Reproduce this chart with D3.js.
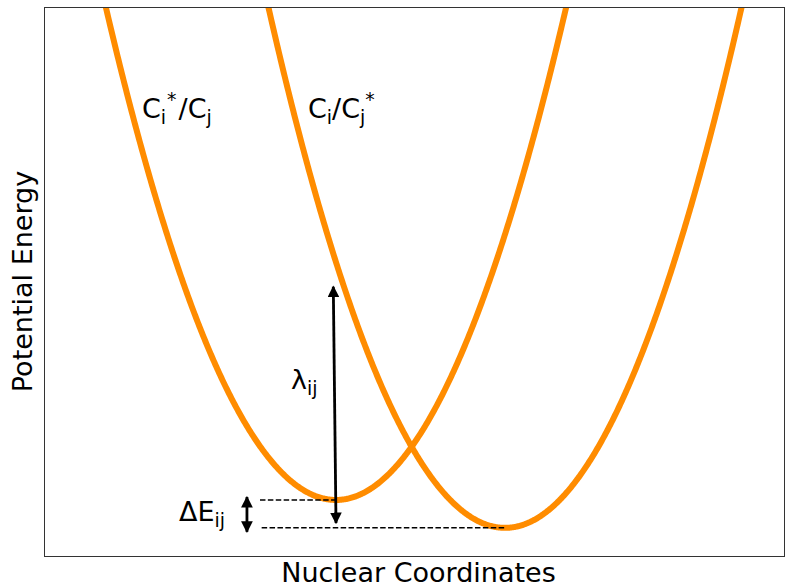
<!DOCTYPE html>
<html>
<head>
<meta charset="utf-8">
<script src="https://cdn.jsdelivr.net/npm/d3@7"></script>
<style>
  html, body { margin: 0; padding: 0; background: #fff; }
  svg { display: block; font-family: "DejaVu Sans", sans-serif; }
</style>
</head>
<body>
<svg id="chart" width="786" height="587"></svg>
<script>
// Diabatic potential energy surfaces: harmonic wells E(q) = k (q - q0)^2 + E0
const wellNames = ["Ci*/Cj", "Ci/Cj*"];
const wellCentres = [0, 1];          // q0, nuclear coordinate of each minimum
const wellMinima = [0, -0.105];      // E0, energy at each minimum
const wellCurvature = [1, 1];        // k

// Annotation values
const lambdaArrow = [[0, -0.087], [-0.016, 0.803]];   // reorganisation energy arrow
const deltaArrow = [[-0.527, 0.011], [-0.527, -0.12]]; // driving-force arrow
const levelLines = [
  [[-0.45, 0], [0, 0]],
  [[-0.44, -0.105], [1, -0.105]]
];

const xDomain = [-1.728, 2.657];
const yDomain = [-0.211, 1.856];

const svg = d3.select("#chart");
const margin = { left: 44, top: 7, right: 1, bottom: 31 };
const W = 786, H = 587;

const x = d3.scaleLinear().domain(xDomain).range([margin.left, W - margin.right]);
const y = d3.scaleLinear().domain(yDomain).range([H - margin.bottom, margin.top]);

const defs = svg.append("defs");
defs.append("clipPath").attr("id", "plot-clip")
  .append("rect")
  .attr("x", x.range()[0]).attr("y", y.range()[1])
  .attr("width", x.range()[1] - x.range()[0])
  .attr("height", y.range()[0] - y.range()[1]);

defs.append("marker")
  .attr("id", "head")
  .attr("viewBox", "0 0 10 10")
  .attr("refX", 9).attr("refY", 5)
  .attr("markerWidth", 4.2).attr("markerHeight", 4.2)
  .attr("markerUnits", "strokeWidth")
  .attr("orient", "auto-start-reverse")
  .append("path")
  .attr("d", "M0,0 L10,5 L0,10 Z")
  .attr("fill", "#000");

const plot = svg.append("g").attr("clip-path", "url(#plot-clip)");

// wells
const qs = d3.range(xDomain[0], xDomain[1] + 0.005, 0.005);
const line = d3.line().x(d => x(d[0])).y(d => y(d[1]));
wellNames.forEach((name, i) => {
  const pts = qs.map(q => [q, wellCurvature[i] * (q - wellCentres[i]) ** 2 + wellMinima[i]]);
  plot.append("path")
    .datum(pts)
    .attr("d", line)
    .attr("fill", "none")
    .attr("stroke", "#ff8c00")
    .attr("stroke-width", 6);
});

// dashed energy levels
levelLines.forEach(seg => {
  plot.append("line")
    .attr("x1", x(seg[0][0])).attr("y1", y(seg[0][1]))
    .attr("x2", x(seg[1][0])).attr("y2", y(seg[1][1]))
    .attr("stroke", "#000")
    .attr("stroke-width", 1.5)
    .attr("stroke-dasharray", "5.5,2.4");
});

// double-headed arrows
[lambdaArrow, deltaArrow].forEach(seg => {
  svg.append("line")
    .attr("x1", x(seg[0][0])).attr("y1", y(seg[0][1]))
    .attr("x2", x(seg[1][0])).attr("y2", y(seg[1][1]))
    .attr("stroke", "#000")
    .attr("stroke-width", 2.8)
    .attr("marker-start", "url(#head)")
    .attr("marker-end", "url(#head)");
});

// frame
svg.append("rect")
  .attr("x", x.range()[0] + 0.5).attr("y", y.range()[1] + 0.5)
  .attr("width", x.range()[1] - x.range()[0] - 1)
  .attr("height", y.range()[0] - y.range()[1])
  .attr("fill", "none")
  .attr("stroke", "#333")
  .attr("stroke-width", 1);

// labels with sub/superscripts
const fs = 27;
function richLabel(px, py, parts) {
  const t = svg.append("text").attr("x", px).attr("y", py)
    .attr("font-size", fs).attr("fill", "#000");
  let shift = 0;
  parts.forEach(p => {
    const ts = t.append("tspan").text(p.t);
    const target = p.s === "sub" ? 6 : p.s === "sup" ? -12 : 0;
    ts.attr("dy", target - shift);
    if (p.dx) ts.attr("dx", p.dx);
    shift = target;
    if (p.s) ts.attr("font-size", fs * 0.7);
  });
  return t;
}

richLabel(142, 118, [{ t: "C" }, { t: "i", s: "sub" }, { t: "*", s: "sup", dx: 1 }, { t: "/C", dx: 2 }, { t: "j", s: "sub" }]);
richLabel(308, 118, [{ t: "C" }, { t: "i", s: "sub" }, { t: "/C" }, { t: "j", s: "sub" }, { t: "*", s: "sup", dx: 0 }]);
richLabel(291, 389, [{ t: "λ" }, { t: "ij", s: "sub" }]);
richLabel(179, 521, [{ t: "ΔE" }, { t: "ij", s: "sub" }]);

// axis titles
svg.append("text")
  .attr("x", (x.range()[0] + x.range()[1]) / 2 + 4).attr("y", 582)
  .attr("text-anchor", "middle")
  .attr("font-size", fs)
  .text("Nuclear Coordinates");

svg.append("text")
  .attr("transform", `translate(32, ${(y.range()[0] + y.range()[1]) / 2}) rotate(-90)`)
  .attr("text-anchor", "middle")
  .attr("font-size", fs)
  .text("Potential Energy");
</script>
</body>
</html>
